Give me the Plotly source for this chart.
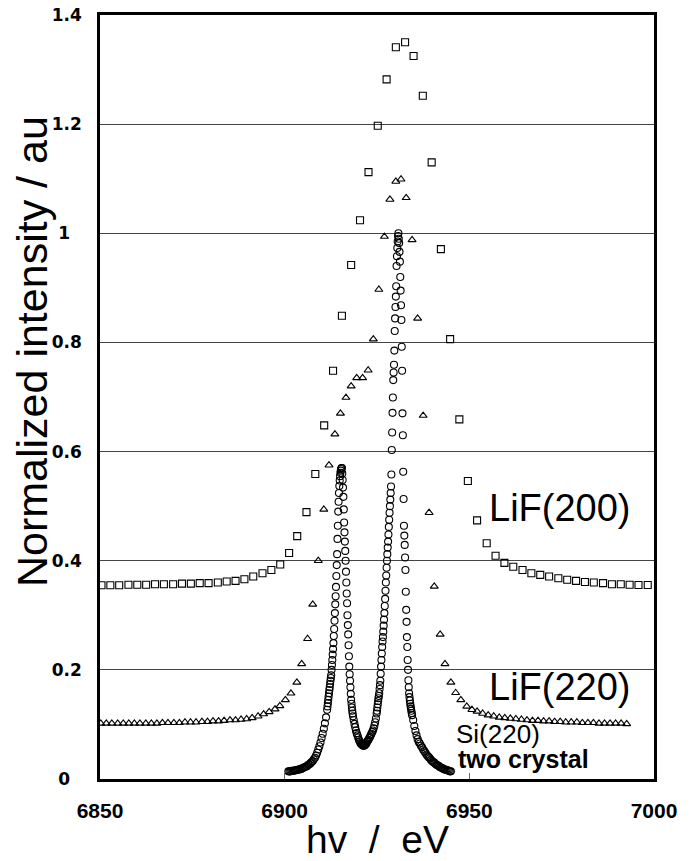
import plotly.graph_objects as go

# ---------------- data ----------------
# LiF(200) - open squares
lif200_x = [6850.4, 6852.8, 6855.2, 6857.7, 6860.1, 6862.5, 6864.9, 6867.3, 6869.8, 6872.2,
            6874.6, 6877.0, 6879.4, 6881.9, 6884.3, 6886.7, 6889.1, 6891.5, 6894.0, 6896.4,
            6898.8, 6901.2, 6903.4, 6905.9, 6908.3, 6910.7, 6913.1, 6915.5, 6918.0, 6920.4,
            6922.7, 6925.2, 6927.6, 6930.1, 6932.6, 6934.9, 6937.4, 6939.8, 6942.3, 6944.8,
            6947.3, 6949.6, 6952.1, 6954.7, 6957.1, 6959.5, 6961.9, 6964.4, 6966.8, 6969.2,
            6971.6, 6974.1, 6976.5, 6978.9, 6981.3, 6983.7, 6986.2, 6988.6, 6991.0, 6993.4,
            6995.8, 6998.3]
lif200_y = [0.355, 0.355, 0.355, 0.356, 0.356, 0.356, 0.357, 0.357, 0.357, 0.358,
            0.358, 0.359, 0.359, 0.360, 0.362, 0.363, 0.366, 0.371, 0.377, 0.383,
            0.393, 0.414, 0.445, 0.489, 0.559, 0.648, 0.748, 0.849, 0.942, 1.024,
            1.112, 1.197, 1.282, 1.341, 1.350, 1.325, 1.252, 1.130, 0.971, 0.806,
            0.659, 0.546, 0.474, 0.432, 0.409, 0.396, 0.389, 0.383, 0.377, 0.374,
            0.371, 0.368, 0.365, 0.363, 0.361, 0.360, 0.359, 0.357, 0.357, 0.356,
            0.3555, 0.3555]

# LiF(220) - open triangles
lif220_x = [6850.2, 6851.7, 6853.2, 6854.8, 6856.3, 6857.8, 6859.3, 6860.8, 6862.4, 6863.9,
            6865.4, 6866.9, 6868.4, 6870.0, 6871.5, 6873.0, 6874.5, 6876.0, 6877.6, 6879.1,
            6880.6, 6882.1, 6883.6, 6885.2, 6886.7, 6888.2, 6889.7, 6891.2, 6892.8, 6894.3,
            6895.8, 6897.4, 6898.7, 6900.2, 6901.7, 6903.3, 6904.6, 6906.2, 6907.6, 6909.1,
            6910.6, 6912.0, 6913.6, 6915.1, 6916.6, 6918.0, 6919.5, 6921.1, 6922.6, 6924.0,
            6925.5, 6927.0, 6928.5, 6930.1, 6931.5, 6932.9, 6934.5, 6936.0, 6937.5, 6939.1,
            6940.5, 6942.1, 6943.4, 6945.0, 6946.3, 6947.7, 6949.3, 6950.7, 6952.1, 6953.6,
            6955.1, 6956.6, 6958.1, 6959.6, 6961.1, 6962.6, 6964.1, 6965.6, 6967.1, 6968.6,
            6970.1, 6971.6, 6973.1, 6974.6, 6976.1, 6977.6, 6979.1, 6980.6, 6982.1, 6983.6,
            6985.1, 6986.6, 6988.1, 6989.6, 6991.1, 6992.6]
lif220_y = [0.102, 0.102, 0.102, 0.102, 0.102, 0.102, 0.102, 0.102, 0.102, 0.102,
            0.102, 0.103, 0.103, 0.103, 0.103, 0.104, 0.104, 0.104, 0.105, 0.105,
            0.106, 0.106, 0.107, 0.108, 0.108, 0.109, 0.110, 0.112, 0.115, 0.119,
            0.123, 0.128, 0.134, 0.145, 0.157, 0.177, 0.211, 0.257, 0.320, 0.400,
            0.494, 0.575, 0.632, 0.670, 0.699, 0.720, 0.735, 0.735, 0.749, 0.806,
            0.897, 0.994, 1.062, 1.095, 1.099, 1.065, 0.988, 0.844, 0.666, 0.488,
            0.353, 0.265, 0.211, 0.177, 0.158, 0.145, 0.133, 0.127, 0.124, 0.120,
            0.117, 0.115, 0.113, 0.112, 0.111, 0.110, 0.109, 0.108, 0.107, 0.107,
            0.106, 0.106, 0.105, 0.105, 0.104, 0.104, 0.104, 0.103, 0.103, 0.103,
            0.102, 0.102, 0.102, 0.102, 0.102, 0.101]

# Si(220) two crystal - open circles
si220_x = [
    6901.0, 6901.3, 6901.6, 6901.9, 6902.2, 6902.5, 6902.8, 6903.1, 6903.4, 6903.7,
    6904.0, 6904.3, 6904.6, 6904.9, 6905.2, 6905.5, 6905.8, 6906.1, 6906.4, 6906.7,
    6907.0, 6907.3, 6907.6, 6907.9, 6908.2, 6908.5, 6908.8, 6909.1, 6909.4, 6909.7,
    6910.0, 6910.3, 6910.6, 6910.9, 6911.2,
    6911.5, 6911.6, 6911.7, 6911.8, 6911.9, 6912.0, 6912.1, 6912.2, 6912.3, 6912.4,
    6912.5, 6912.6, 6912.7, 6912.8, 6912.9, 6913.0, 6913.1, 6913.2, 6913.3, 6913.4,
    6913.5, 6913.6, 6913.7, 6913.8, 6913.9, 6914.0, 6914.1, 6914.2, 6914.3, 6914.4,
    6914.5, 6914.6, 6914.7, 6914.8, 6914.9, 6915.0, 6915.1, 6915.2, 6915.3, 6915.4,
    6915.5, 6915.6, 6915.7, 6915.8, 6915.9, 6916.0, 6916.1, 6916.2, 6916.3, 6916.4,
    6916.5, 6916.6, 6916.7, 6916.8, 6916.9, 6917.0, 6917.1, 6917.2, 6917.3, 6917.4,
    6917.5, 6917.6, 6917.7, 6917.8, 6917.9, 6918.0, 6918.1, 6918.2, 6918.3, 6918.4,
    6918.5,
    6918.7, 6918.9, 6919.1, 6919.3, 6919.5, 6919.7, 6919.9, 6920.1, 6920.3, 6920.5,
    6920.7, 6920.9, 6921.1, 6921.3, 6921.5, 6921.7, 6921.9, 6922.1, 6922.3, 6922.5,
    6922.7, 6922.9, 6923.1, 6923.3, 6923.5, 6923.7, 6923.9, 6924.1, 6924.3, 6924.5,
    6924.7, 6924.9,
    6925.0, 6925.1, 6925.2, 6925.3, 6925.4, 6925.5, 6925.6, 6925.7, 6925.8, 6925.9,
    6926.0, 6926.1, 6926.2, 6926.3, 6926.4, 6926.5, 6926.6, 6926.7, 6926.8, 6926.9,
    6927.0, 6927.1, 6927.2, 6927.3, 6927.4, 6927.5, 6927.6, 6927.7, 6927.8, 6927.9,
    6928.0, 6928.1, 6928.2, 6928.3, 6928.4, 6928.5, 6928.6, 6928.7, 6928.8, 6928.9,
    6929.0, 6929.1, 6929.2, 6929.3, 6929.4, 6929.5, 6929.6, 6929.7, 6929.8, 6929.9,
    6930.0, 6930.1, 6930.2, 6930.3, 6930.4, 6930.5, 6930.6, 6930.7, 6930.8, 6930.9,
    6931.0, 6931.1, 6931.2, 6931.3, 6931.4, 6931.5, 6931.6, 6931.7, 6931.8, 6931.9,
    6932.0, 6932.1, 6932.2, 6932.3, 6932.4, 6932.5, 6932.6, 6932.7, 6932.8, 6932.9,
    6933.0, 6933.1, 6933.2, 6933.3, 6933.4, 6933.5, 6933.6, 6933.7, 6933.8, 6933.9,
    6934.0, 6934.1, 6934.2, 6934.3, 6934.4, 6934.5,
    6934.8, 6935.1, 6935.4, 6935.7, 6936.0, 6936.3, 6936.6, 6936.9, 6937.2, 6937.5,
    6937.8, 6938.1, 6938.4, 6938.7, 6939.0, 6939.3, 6939.6, 6939.9, 6940.2, 6940.5,
    6940.8, 6941.1, 6941.4, 6941.7, 6942.0, 6942.3, 6942.6, 6942.9, 6943.2, 6943.5,
    6943.8, 6944.1, 6944.4, 6944.7, 6945.0]
si220_y = [
    0.014, 0.014, 0.014, 0.015, 0.015, 0.015, 0.016, 0.016, 0.017, 0.017,
    0.018, 0.018, 0.019, 0.020, 0.021, 0.022, 0.023, 0.024, 0.026, 0.027,
    0.029, 0.031, 0.033, 0.036, 0.039, 0.043, 0.048, 0.054, 0.060, 0.067,
    0.075, 0.083, 0.092, 0.102, 0.113,
    0.127, 0.133, 0.139, 0.145, 0.151, 0.157, 0.163, 0.168, 0.174, 0.180,
    0.185, 0.190, 0.200, 0.209, 0.218, 0.228, 0.238, 0.249, 0.262, 0.275,
    0.290, 0.304, 0.320, 0.335, 0.352, 0.372, 0.392, 0.412, 0.440, 0.464,
    0.490, 0.508, 0.524, 0.537, 0.547, 0.555, 0.561, 0.565, 0.568, 0.570,
    0.570, 0.560, 0.548, 0.534, 0.517, 0.494, 0.470, 0.452, 0.435, 0.418,
    0.400, 0.380, 0.360, 0.340, 0.322, 0.300, 0.282, 0.265, 0.245, 0.225,
    0.206, 0.192, 0.180, 0.168, 0.156, 0.145, 0.138, 0.131, 0.125, 0.120,
    0.115,
    0.108, 0.101, 0.095, 0.089, 0.084, 0.080, 0.076, 0.072, 0.069, 0.066,
    0.064, 0.063, 0.062, 0.061, 0.061, 0.062, 0.063, 0.065, 0.068, 0.070,
    0.072, 0.075, 0.077, 0.080, 0.083, 0.086, 0.089, 0.093, 0.098, 0.104,
    0.111, 0.120,
    0.125, 0.131, 0.137, 0.143, 0.148, 0.152, 0.157, 0.165, 0.172, 0.180,
    0.193, 0.206, 0.218, 0.230, 0.242, 0.252, 0.260, 0.270, 0.281, 0.292,
    0.304, 0.317, 0.330, 0.345, 0.360, 0.373, 0.387, 0.400, 0.412, 0.424,
    0.435, 0.448, 0.462, 0.475, 0.488, 0.500, 0.512, 0.524, 0.536, 0.558,
    0.603, 0.635, 0.671, 0.699, 0.731, 0.745, 0.759, 0.785, 0.821, 0.844,
    0.865, 0.884, 0.903, 0.940, 0.958, 0.973, 0.985, 0.995, 1.000, 0.990,
    0.982, 0.966, 0.948, 0.920, 0.895, 0.868, 0.841, 0.792, 0.748, 0.670,
    0.630, 0.563, 0.513, 0.464, 0.446, 0.429, 0.406, 0.383, 0.343, 0.310,
    0.288, 0.260, 0.242, 0.218, 0.200, 0.181, 0.168, 0.157, 0.150, 0.144,
    0.138, 0.133, 0.129, 0.125, 0.121, 0.117,
    0.108, 0.097, 0.088, 0.080, 0.073, 0.068, 0.065, 0.061, 0.058, 0.054,
    0.051, 0.048, 0.045, 0.042, 0.040, 0.038, 0.035, 0.033, 0.031, 0.030,
    0.028, 0.026, 0.025, 0.024, 0.022, 0.021, 0.020, 0.019, 0.018, 0.017,
    0.017, 0.016, 0.015, 0.014, 0.014]

x_tick_vals = [6850, 6900, 6950, 7000]
x_tick_text = ["6850", "6900", "6950", "7000"]
y_tick_vals = [0, 0.2, 0.4, 0.6, 0.8, 1.0, 1.2, 1.4]
y_tick_text = ["0", "0.2", "0.4", "0.6", "0.8", "1", "1.2", "1.4"]

# ---------------- figure ----------------
NB = "\u00a0"
y_tick_disp = [t + NB * 2 if len(t) == 1 else t for t in y_tick_text]

fig = go.Figure()
mk = dict(color="black", line=dict(width=1.1, color="black"))
fig.add_trace(go.Scatter(x=lif200_x, y=lif200_y, mode="markers", name="LiF(200)",
                         marker=dict(symbol="square-open", size=7, **mk)))
fig.add_trace(go.Scatter(x=lif220_x, y=lif220_y, mode="markers", name="LiF(220)",
                         marker=dict(symbol="triangle-up-open", size=7, **mk)))
fig.add_trace(go.Scatter(x=si220_x, y=si220_y, mode="markers", name="Si(220)",
                         marker=dict(symbol="circle-open", size=7, **mk)))

fig.update_layout(
    width=691, height=861,
    margin=dict(l=100, r=37, t=15, b=82, autoexpand=False),
    paper_bgcolor="white", plot_bgcolor="white",
    showlegend=False,
    font=dict(family="Liberation Sans, Arial, sans-serif", color="black"),
)
fig.update_xaxes(
    range=[6850, 7000], tickvals=x_tick_vals, ticktext=x_tick_text,
    showgrid=False, zeroline=False, automargin=False,
    showline=True, linecolor="black", linewidth=2.5, mirror=True,
    ticks="inside", ticklen=6, tickcolor="#666666", tickwidth=1,
    tickfont=dict(family="Liberation Sans", size=21, weight="bold", color="black"),
    ticklabelstandoff=11,
)
fig.update_yaxes(
    range=[0, 1.4], tickvals=y_tick_vals, ticktext=y_tick_disp,
    showgrid=True, gridcolor="#444444", gridwidth=1, zeroline=False, automargin=False,
    showline=True, linecolor="black", linewidth=2.5, mirror=True,
    ticks="",
    tickfont=dict(family="DejaVu Sans", size=17, weight="bold", color="black"),
    ticklabelstandoff=12,
)

fig.add_annotation(text="hv  /  eV", xref="paper", yref="paper",
                   x=0.5, y=-0.0795, xanchor="center", yanchor="middle",
                   showarrow=False, font=dict(family="Liberation Sans", size=39, color="black"))
fig.add_annotation(text="Normalized intensity / au", xref="paper", yref="paper",
                   x=-0.123, y=0.560, xanchor="center", yanchor="middle", textangle=-90,
                   showarrow=False, font=dict(family="Liberation Sans", size=43, color="black"))
fig.add_annotation(text="LiF(200)", x=6954.8, y=0.497, xanchor="left", yanchor="middle",
                   showarrow=False, font=dict(family="Liberation Sans", size=38, color="black"))
fig.add_annotation(text="LiF(220)", x=6954.8, y=0.168, xanchor="left", yanchor="middle",
                   showarrow=False, font=dict(family="Liberation Sans", size=38, color="black"))
fig.add_annotation(text="Si(220)", x=6945.9, y=0.083, xanchor="left", yanchor="middle",
                   showarrow=False, font=dict(family="Liberation Sans", size=26, color="black"))
fig.add_annotation(text="two crystal", x=6946.4, y=0.036, xanchor="left", yanchor="middle",
                   showarrow=False, font=dict(family="Liberation Sans", size=25, weight="bold",
                                              color="black"))

fig.write_html("out.html")
